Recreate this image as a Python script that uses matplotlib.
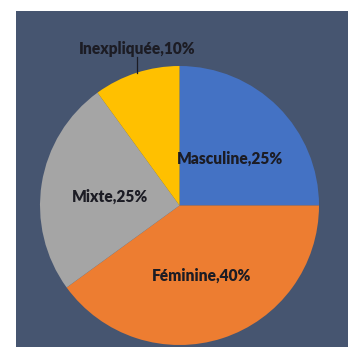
import matplotlib
matplotlib.use("Agg")
import matplotlib.pyplot as plt
from matplotlib.patches import Rectangle

categories = ["Masculine", "Féminine", "Mixte", "Inexpliquée"]
values = [25, 40, 25, 10]
colors = ["#4472C4", "#ED7D31", "#A5A5A5", "#FFC000"]

W, H = 353, 347
fig = plt.figure(figsize=(W / 100, H / 100), dpi=100)
fig.patch.set_facecolor("white")

bg = fig.add_axes([0, 0, 1, 1], zorder=-5)
bg.set_xlim(0, W)
bg.set_ylim(H, 0)
bg.axis("off")
bg.add_patch(Rectangle((16, 11), 348 - 16, H - 11, facecolor="#465570", edgecolor="none"))

cx, cy, r = 179.5, 205.5, 139.5
ax = fig.add_axes([(cx - r) / W, (H - cy - r) / H, 2 * r / W, 2 * r / H], zorder=1)
ax.patch.set_alpha(0)

wedges, _ = ax.pie(values, colors=colors, startangle=90, counterclock=False,
                   radius=1, center=(0, 0), frame=False,
                   wedgeprops=dict(linewidth=0))
ax.set_xlim(-1, 1)
ax.set_ylim(-1, 1)
ax.axis("off")

label_pos = [(0.362, 0.333), (0.161, -0.505), (-0.498, 0.061), (-0.305, 1.122)]
for cat, v, (x, y) in zip(categories, values, label_pos):
    ax.text(x, y, f"{cat},{v}%", ha="center", va="center", fontsize=11.2,
            fontweight="heavy", family=["Lato", "DejaVu Sans"], color="#1c1c24",
            clip_on=False)

# leader line for the small slice
ax.plot([-0.308, -0.308], [1.065, 0.951], color="#1c1c24", lw=0.9, clip_on=False)

fig.savefig("out.png", dpi=100)
